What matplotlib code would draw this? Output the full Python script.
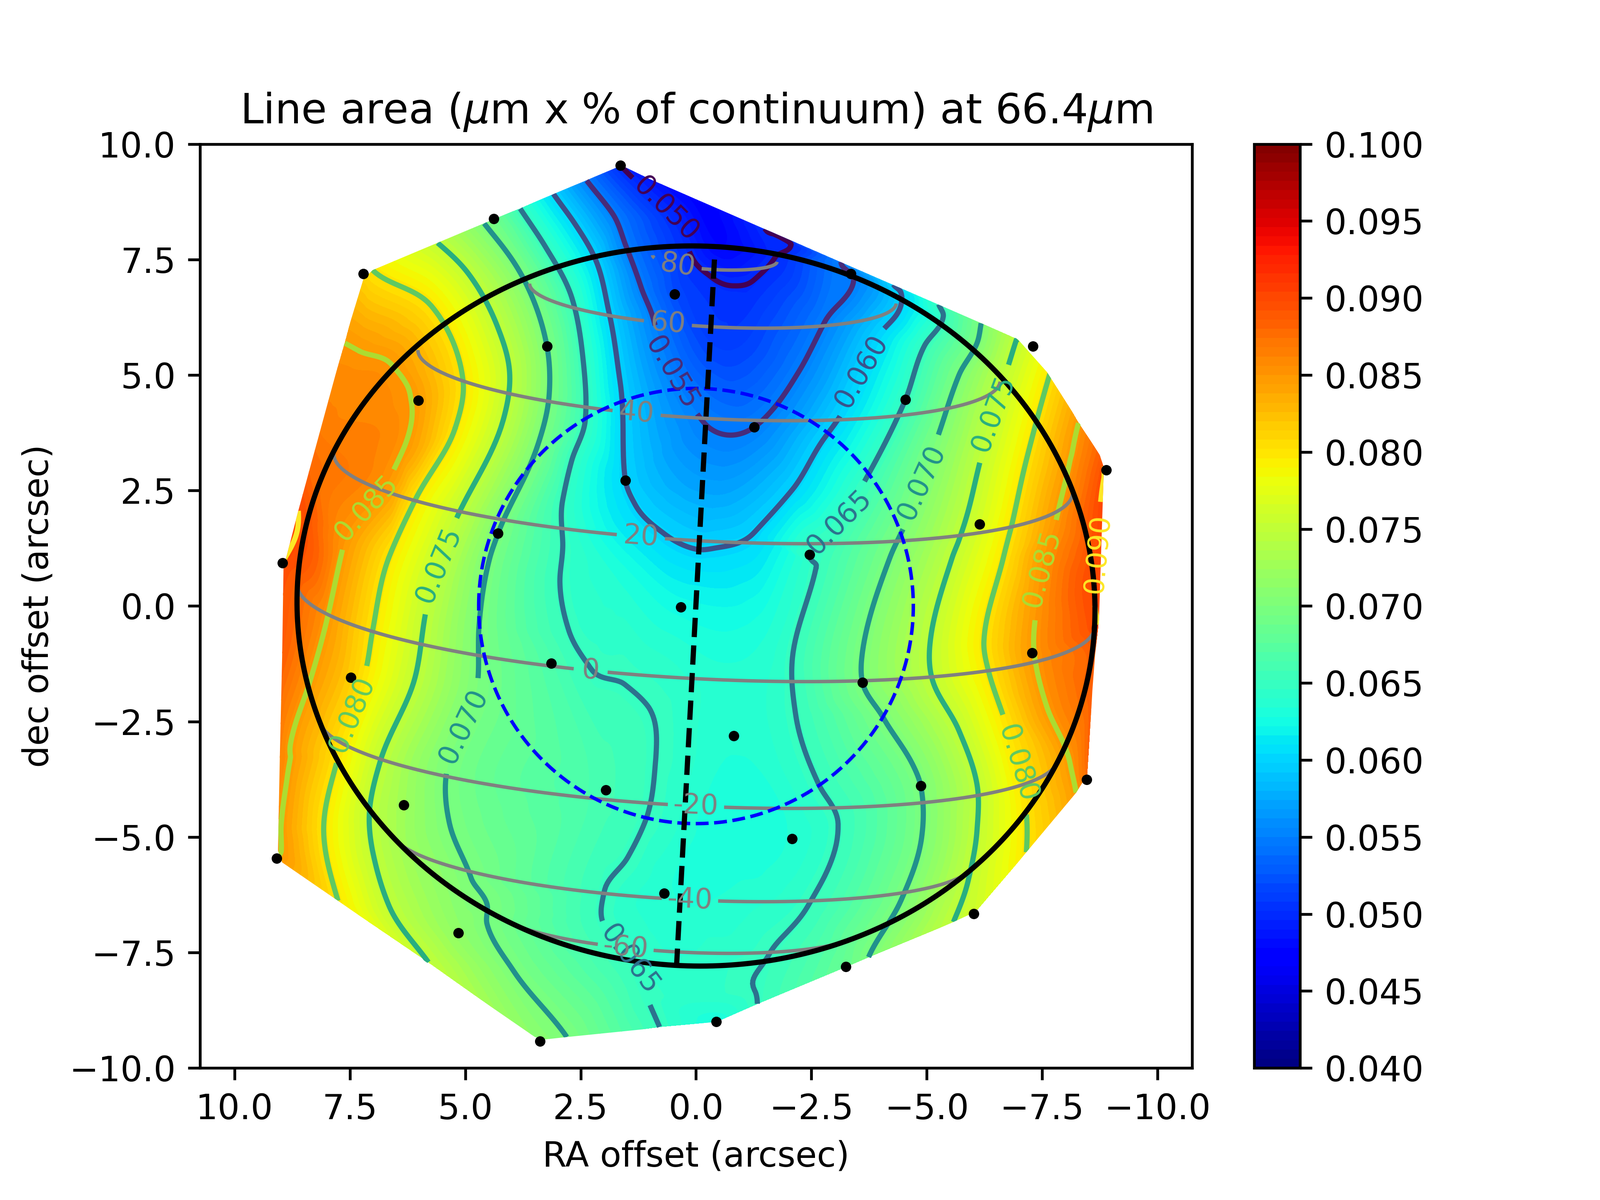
import numpy as np
import matplotlib
matplotlib.use('Agg')
import matplotlib.pyplot as plt
import matplotlib.tri as mtri
from matplotlib.patches import Polygon

# measured positions (black dots)
dot_ra = [1.64, 4.38, 7.21, 0.46, -3.36, 3.23, -7.30, 6.02, -4.54, -1.26, -8.89, 1.53, -6.15, 4.29, -2.46, 8.96, 0.33,
          -7.28, 3.14, 7.48, -3.61, -0.82, -8.47, 1.95, 6.33, -4.87, -2.08, 9.09, 0.69, 5.15, -6.02, -3.25, -0.44, 3.38]
dot_dec = [9.54, 8.38, 7.19, 6.75, 7.19, 5.62, 5.62, 4.45, 4.47, 3.87, 2.94, 2.72, 1.77, 1.57, 1.11, 0.93, -0.02,
           -1.02, -1.24, -1.55, -1.66, -2.81, -3.76, -3.98, -4.31, -3.89, -5.04, -5.46, -6.22, -7.08, -6.66, -7.81, -9.00, -9.42]
dot_area = [.050, .069, .081, .052, .055, .070, .077, .0845, .065, .055, .0905, .060, .0765, .070, .065, .0899, .0625,
            .0848, .0665, .0815, .070, .0635, .0875, .066, .0725, .070, .0635, .085, .0635, .0715, .076, .0685, .063, .071]

# further readings of the field: points on the drawn contours
trace_050 = [(1.19, 9.09), (0.45, 8.34), (0.06, 7.5), (-0.32, 7.13), (-0.83, 6.93), (-1.27, 7.07), (-1.71, 7.54),
             (-2.06, 7.82), (-1.49, 8.17)]
trace_055 = [(2.37, 9.21), (1.82, 8.51), (1.51, 7.77), (1.19, 6.9), (0.96, 6.33), (0.84, 5.92), (0.5, 5.0), (0.06, 4.28),
             (-0.26, 3.88), (-0.7, 3.7), (-1.71, 4.31), (-2.22, 5.06), (-2.79, 6.15), (-3.42, 7.13), (-3.14, 7.45)]
trace_060 = [(3.09, 8.92), (2.63, 8.28), (2.17, 7.48), (1.88, 6.33), (1.65, 4.89), (1.31, 2.18), (0.67, 1.55), (0.0, 1.23),
             (-0.45, 1.26), (-1.27, 1.6), (-2.09, 2.52), (-2.73, 3.56), (-3.17, 4.19), (-3.93, 5.81), (-4.44, 6.5),
             (-4.44, 6.79), (-4.28, 6.96)]
trace_065a = [(3.81, 8.6), (3.26, 7.77), (2.69, 6.67), (2.43, 5.17), (2.4, 4.02), (2.69, 3.16), (2.89, 2.29), (2.89, 1.43),
              (2.95, 0.53), (2.75, -0.55), (2.29, -1.34), (1.54, -1.7), (1.02, -2.2), (0.87, -3.28), (1.07, -4.58),
              (1.48, -5.44), (2.0, -6.23), (2.03, -6.81), (1.42, -7.67), (1.07, -8.46), (0.79, -9.11)]
trace_065b = [(-5.26, 6.53), (-5.36, 6.27), (-4.95, 5.63), (-3.49, 2.41), (-3.04, 1.72), (-2.6, 0.82), (-2.09, -1.12),
              (-2.16, -2.35), (-2.66, -3.86), (-3.08, -4.72), (-2.41, -6.52), (-1.59, -7.53), (-1.27, -8.32), (-1.33, -8.61)]
trace_070a = [(4.59, 8.28), (3.73, 7.07), (3.18, 4.6), (3.44, 3.45), (4.47, 1.04), (4.7, -0.4), (4.73, -1.62),
              (5.37, -3.42), (5.34, -4.72), (4.88, -5.87), (4.53, -6.45), (4.53, -6.88), (3.96, -7.89), (2.8, -9.33)]
trace_070b = [(-6.18, 6.12), (-6.09, 5.69), (-5.7, 5.0), (-5.2, 3.56), (-4.56, 1.83), (-4.2, 1.04), (-3.61, -0.98),
              (-4.06, -2.42), (-4.69, -3.42), (-4.88, -5.08), (-4.44, -6.38), (-3.74, -7.6)]
trace_075a = [(5.6, 7.86), (4.93, 7.19), (4.3, 6.04), (4.04, 5.06), (4.18, 4.02), (5.22, 1.83), (5.83, 0.0), (6.09, -1.55),
              (6.84, -3.35), (7.07, -4.36), (7.01, -5.3), (6.64, -6.52), (5.8, -7.71)]
trace_075b = [(-6.94, 5.75), (-6.75, 5.15), (-6.21, 3.33), (-5.7, 1.43), (-5.55, 1.04), (-5.07, -0.83), (-5.13, -1.62),
              (-5.7, -2.7), (-6.09, -3.86), (-6.09, -4.86), (-5.9, -5.94), (-5.58, -6.84)]
trace_080a = [(7.01, 7.27), (5.74, 6.5), (5.05, 4.89), (5.22, 3.85), (6.09, 2.29), (6.66, 1.04), (7.01, -0.54), (7.18, -1.48),
              (7.76, -3.28), (8.07, -4.86), (7.76, -6.38)]
trace_080b = [(-7.67, 5.03), (-7.16, 3.16), (-6.66, 1.04), (-6.24, -0.76), (-6.34, -1.41), (-6.72, -2.56), (-7.16, -4.5),
              (-7.16, -5.33)]
trace_085a = [(7.61, 5.69), (7.3, 5.52), (6.6, 5.23), (6.17, 4.43), (6.32, 3.45), (6.63, 2.78), (7.64, 1.31), (7.99, -0.26),
              (8.39, -1.7), (8.79, -2.99), (8.99, -4.72), (8.99, -5.3)]
trace_085b = [(-8.29, 3.96), (-7.8, 1.83), (-7.54, 1.04), (-7.38, -0.04), (-7.61, -2.2), (-8.11, -3.42), (-8.24, -4.04)]
trace_090a = [(-8.84, 2.76), (-8.75, 2.0), (-8.62, 0.46), (-8.72, -0.4)]
trace_090b = [(8.62, 2.06), (8.91, 1.04)]

trace_levels = [.050, .055, .060, .065, .065, .070, .070, .075, .075, .080, .080, .085, .085, .090, .090]
traces = [trace_050, trace_055, trace_060, trace_065a, trace_065b, trace_070a, trace_070b, trace_075a, trace_075b,
          trace_080a, trace_080b, trace_085a, trace_085b, trace_090a, trace_090b]

# readings of the colour between contours and along the edge
extra_ra = [-8.75, -8.79, -8.8, -8.65, -8.59, 1.8, 9.02, 8.97, 8.4, 8.1, 0.0, -0.5, -0.5, -0.5, -0.5, -1.5, 1.5, 8.3]
extra_dec = [3.27, 1.2, 0.4, -1.05, -1.84, -9.25, -3.28, -1.12, 3.0, 4.02, 8.8, 7.8, 2.5, 5.5, -5.0, -0.8, 0.5, 1.0]
extra_area = [.0885, .0903, .0902, .0885, .0885, .0675, .0862, .0885, .0880, .0865, .0475, .0478, .0572, .0515, .063,
              .0635, .0632, .0885]

# outline of the filled region
edge_ra = [1.62, 1.0, -6.97, -7.61, -8.75, -8.84, -8.73, -8.65, -8.59, -8.49, -8.24, -7.16, -6.12, -5.58, -3.74, -1.3,
           -0.45, 0.63, 2.8, 3.26, 3.49, 5.8, 7.76, 8.97, 9.06, 9.02, 8.97, 8.94, 8.62, 7.58, 7.21, 7.01, 1.77]
edge_dec = [9.54, 9.24, 5.78, 5.06, 3.27, 3.0, -0.4, -1.05, -1.84, -3.64, -4.04, -5.33, -6.59, -6.84, -7.64, -8.65,
            -9.0, -9.11, -9.33, -9.38, -9.33, -7.74, -6.38, -5.55, -5.3, -3.28, -1.12, 0.82, 2.06, 5.86, 7.07, 7.27, 9.47]

# planet geometry
semi_major = 8.65
semi_polar = 7.76
sub_lat = np.radians(10.46)
tilt = np.radians(3.1)
fov_radius = 4.71
axis_ra = [-0.40, 0.42]
axis_dec = [7.5, -7.77]
lat_levels = [-60, -40, -20, 0, 20, 40, 60, 80]
area_levels = [.050, .055, .060, .065, .070, .075, .080, .085, .090]
lat_label_pos = [(0.38, 7.52), (0.6, 6.26), (1.28, 4.29), (1.19, 1.59), (2.28, -1.35), (0.0, -4.31), (0.13, -6.37), (1.53, -7.48)]
area_label_pos = [(0.71, 8.5), (0.49, 5.07), (-3.5, 5.13), (-3.1, 1.81), (1.55, -7.77), (5.04, -2.61), (-4.93, 2.65),
                  (5.62, 0.91), (-6.42, 4.18), (7.46, -2.35), (-6.97, -3.41), (7.12, 2.08), (-7.52, 0.8), (-8.63, 1.15)]

# combine readings
xs, ys, zs = list(dot_ra), list(dot_dec), list(dot_area)
for lev, tr in zip(trace_levels, traces):
    for p in tr:
        xs.append(p[0]); ys.append(p[1]); zs.append(lev)
xs += extra_ra; ys += extra_dec; zs += extra_area
keep_x, keep_y, keep_z = [], [], []
for a, b, c in zip(xs, ys, zs):
    if all((a - u) ** 2 + (b - v) ** 2 > 0.08 ** 2 for u, v in zip(keep_x, keep_y)):
        keep_x.append(a); keep_y.append(b); keep_z.append(c)
keep_x, keep_y, keep_z = np.array(keep_x), np.array(keep_y), np.array(keep_z)

tri = mtri.Triangulation(keep_x, keep_y)
tri.set_mask(mtri.TriAnalyzer(tri).get_flat_tri_mask(0.0015))
interp = mtri.CubicTriInterpolator(tri, keep_z, kind='geom')
refiner = mtri.UniformTriRefiner(tri)
tri_f, z_f = refiner.refine_field(keep_z, triinterpolator=interp, subdiv=4)

fig, ax = plt.subplots(figsize=(6.4, 4.8))
ax.set_xlim(10.75, -10.75)
ax.set_ylim(-10, 10)
cf = ax.tricontourf(tri_f, z_f, levels=np.linspace(0.04, 0.10, 101), cmap='jet', vmin=0.04, vmax=0.10)
cs = ax.tricontour(tri_f, z_f, levels=area_levels, cmap='viridis', linewidths=1.5)
clip = Polygon(np.column_stack([edge_ra, edge_dec]), closed=True, transform=ax.transData, fc='none', ec='none')
ax.add_patch(clip)
cf.set_clip_path(clip)
cs.set_clip_path(clip)

# latitude field on the spheroid (near hemisphere of longitudes only)
gx = np.linspace(-9, 9, 1800)
gy = np.linspace(-9, 9, 1800)
RA, DEC = np.meshgrid(gx, gy)
u = -RA
xp = u * np.cos(tilt) - DEC * np.sin(tilt)
yp = u * np.sin(tilt) + DEC * np.cos(tilt)
sB, cB = np.sin(sub_lat), np.cos(sub_lat)
a2, b2 = semi_major ** 2, semi_polar ** 2
qa = cB ** 2 / a2 + sB ** 2 / b2
qb = 2 * yp * sB * cB * (1 / b2 - 1 / a2)
qc = (yp ** 2 * sB ** 2 + xp ** 2) / a2 + yp ** 2 * cB ** 2 / b2 - 1
disc = qb ** 2 - 4 * qa * qc
t = np.where(disc >= 0, (-qb + np.sqrt(np.where(disc >= 0, disc, np.nan))) / (2 * qa), np.nan)
X = -yp * sB + t * cB
Y = xp
Z = yp * cB + t * sB
lat = np.degrees(np.arctan2(Z, np.hypot(X, Y)))
lat = np.ma.masked_where(~np.isfinite(lat) | (X < 0), lat)
lc = ax.contour(RA, DEC, lat, levels=lat_levels, colors='grey', linewidths=1.0, negative_linestyles='solid')

ax.clabel(cs, fmt='%1.3f', fontsize=8, inline=True, manual=area_label_pos)
ax.clabel(lc, fmt='%d', fontsize=8, inline=True, manual=lat_label_pos)

# limb, field of view, axis, points
app_b = np.sqrt(a2 * sB ** 2 + b2 * cB ** 2)
th = np.linspace(0, 2 * np.pi, 400)
ex, ey = semi_major * np.cos(th), app_b * np.sin(th)
ax.plot(-(ex * np.cos(tilt) + ey * np.sin(tilt)), -ex * np.sin(tilt) + ey * np.cos(tilt), 'k', lw=1.5)
ax.plot(fov_radius * np.cos(th), fov_radius * np.sin(th), 'b--', lw=1.0)
ax.plot(axis_ra, axis_dec, 'k--', lw=1.5)
ax.plot(dot_ra, dot_dec, 'k.', ms=4)

ax.set_xlim(10.75, -10.75)
ax.set_ylim(-10, 10)
ax.set_xlabel('RA offset (arcsec)')
ax.set_ylabel('dec offset (arcsec)')
ax.set_title(r'Line area ($\mu$m x % of continuum) at 66.4$\mu$m')
fig.colorbar(cf, ax=ax, ticks=np.arange(0.04, 0.1001, 0.005), format='%.3f')
fig.savefig('out.png', dpi=600)
